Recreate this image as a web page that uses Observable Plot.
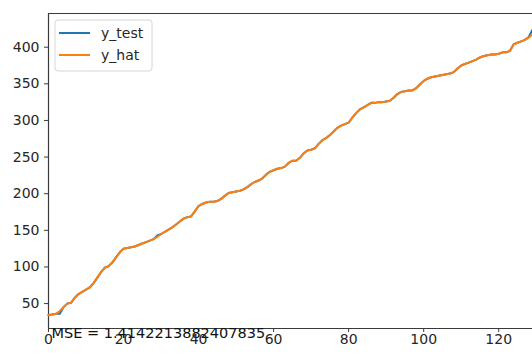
<!DOCTYPE html>
<html><head><meta charset="utf-8">
<script src="https://cdn.jsdelivr.net/npm/d3@7"></script>
<script src="https://cdn.jsdelivr.net/npm/@observablehq/plot@0.6"></script>
<style>
body{margin:0;background:#fff}
svg{font-family:"DejaVu Sans",sans-serif}
</style>
</head><body><div id="chart"></div>
<script>
const seriesNames = ["y_test", "y_hat"];
const seriesColors = ["#1f77b4", "#ff7f0e"];
const mseLabel = "MSE = 1.4142213882407835";
const xTicks = [0, 20, 40, 60, 80, 100, 120];
const yTicks = [50, 100, 150, 200, 250, 300, 350, 400];

const yTest = [34,35,36,36,45,50,51,58,63,66,69,72,78,85,93,99,101,106,113,120,
  125,126,127,128,130,132,134,136,138,143,145,148,151,154,158,162,166,168,169,176,
  183,186,188,189,189,190,193,197,201,202,203,204,206,209,213,216,218,221,226,230,
  232,234,235,237,242,245,245,249,255,259,260,262,268,273,276,280,285,290,293,295,
  297,304,310,315,318,321,324,324,325,325,326,327,331,336,339,340,341,341,344,349,
  354,357,359,360,361,362,363,364,366,371,375,377,379,381,383,386,388,389,390,390,
  391,393,393,395,404,406,408,410,414,424];
const yHat = [34,35,36,40,45,50,51,58,63,66,69,72,78,86,93,99,101,106,113,120,
  125,126,127,128,130,132,134,136,138,141,145,148,151,154,158,162,166,168,169,176,
  183,186,188,189,189,190,193,197,201,202,203,204,206,209,213,216,218,221,226,230,
  232,234,235,237,242,245,245,249,255,259,260,262,268,273,276,280,285,290,293,295,
  297,304,310,315,318,321,324,324,325,325,326,327,331,336,339,340,341,341,344,349,
  354,357,359,360,361,362,363,364,366,371,375,377,379,381,383,386,388,389,390,390,
  391,393,393,395,404,406,408,410,413,418];

const idx = yTest.map((_, i) => i);
const dataTest = idx.map(i => ({x: i, y: yTest[i]}));
const dataHat = idx.map(i => ({x: i, y: yHat[i]}));

const W = 532, H = 354;
const mL = 48, mT = 13, mB = 26, mR = 0;
const xDom = [0, 129], yDom = [16, 446];
const spine = "#3a3a3a";

const chart = Plot.plot({
  width: W, height: H,
  marginLeft: mL, marginTop: mT, marginBottom: mB, marginRight: mR,
  style: {fontSize: "14px", fontFamily: "DejaVu Sans, sans-serif", color: "#262626", background: "#fff"},
  x: {domain: xDom, label: null},
  y: {domain: yDom, label: null},
  marks: [
    Plot.axisX({ticks: xTicks, tickSize: 4, tickPadding: 2, fontSize: 14, stroke: spine, fill: "#262626", label: null}),
    Plot.axisY({ticks: yTicks, tickSize: 4, tickPadding: 5, fontSize: 14, stroke: spine, fill: "#262626", label: null}),
    Plot.ruleY([yDom[1]], {stroke: spine, strokeWidth: 1.2}),
    Plot.ruleY([yDom[0]], {stroke: spine, strokeWidth: 1.2}),
    Plot.ruleX([xDom[0]], {stroke: spine, strokeWidth: 1.2}),
    Plot.line(dataTest, {x: "x", y: "y", stroke: seriesColors[0], strokeWidth: 2}),
    Plot.line(dataHat, {x: "x", y: "y", stroke: seriesColors[1], strokeWidth: 2}),
    Plot.text([mseLabel], {x: 0, y: 9, text: d => d, textAnchor: "start", dx: 3, fill: "#111", fontSize: 14.5})
  ]
});
document.getElementById("chart").appendChild(chart);

// legend
const svg = d3.select(chart);
const lg = svg.append("g").attr("transform", "translate(55,20)").attr("text-anchor", "start");
lg.append("rect").attr("width", 97).attr("height", 51).attr("rx", 3)
  .attr("fill", "#fff").attr("fill-opacity", 0.8).attr("stroke", "#d6d6d6");
seriesNames.forEach((name, i) => {
  const yy = 13 + i * 22;
  lg.append("line").attr("x1", 4).attr("x2", 35).attr("y1", yy).attr("y2", yy)
    .attr("stroke", seriesColors[i]).attr("stroke-width", 2);
  lg.append("text").attr("x", 46).attr("y", yy).attr("dy", "0.35em")
    .attr("text-anchor", "start")
    .attr("font-size", 14).attr("fill", "#262626").text(name);
});
</script>
</body></html>
